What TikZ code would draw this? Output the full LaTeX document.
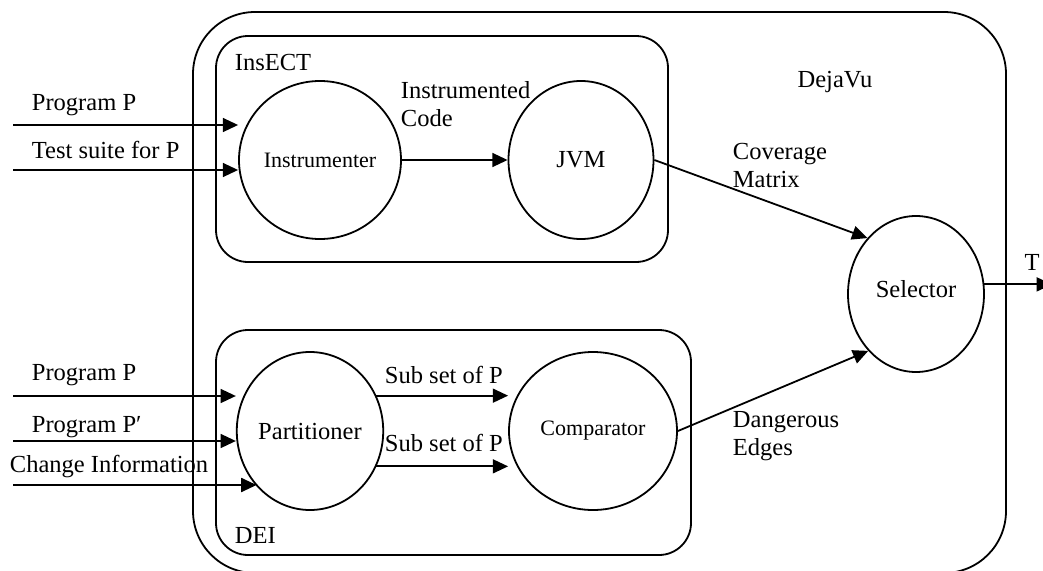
\documentclass[tikz,border=0pt]{standalone}
\usepackage{fontspec}
\setmainfont{Liberation Serif}
\usetikzlibrary{arrows.meta,shapes.geometric}
\begin{document}
\begin{tikzpicture}[x=0.75pt,y=-0.75pt,
  line width=1.35pt,
  bubble/.style={draw,ellipse,inner sep=0pt,font=\fontsize{18.4}{21}\selectfont},
  smallbubble/.style={bubble,font=\fontsize{16.5}{19}\selectfont},
  group/.style={draw,rounded corners=24pt,inner sep=0pt},
  lbl/.style={inner sep=0pt,anchor=west,font=\fontsize{18.4}{21}\selectfont,align=left},
  flow/.style={-{Triangle[length=11.5pt,width=10.5pt]}}]
\useasboundingbox (0,0) rectangle (1043,571);

% enclosing system and its two subsystems
\node[group,rounded corners=46.5pt,minimum width=609.75pt,minimum height=420.75pt] (dejavu) at (599.5,292.5) {};
\node[group,minimum width=339pt,minimum height=169.5pt] (insect) at (442,149) {};
\node[group,minimum width=356.25pt,minimum height=168.75pt] (dei) at (453.5,442.5) {};

\node[lbl] (insectlbl) at (234,62) {InsECT};
\node[lbl] (deilbl) at (234,535) {DEI};
\node[lbl,anchor=center] (dejavulbl) at (835,82) {DejaVu};

% processes
\node[smallbubble,minimum width=121.5pt,minimum height=118.5pt] (instr) at (320,160) {Instrumenter};
\node[bubble,minimum width=108.75pt,minimum height=118.5pt] (jvm) at (581,160) {JVM};
\node[bubble,minimum width=102pt,minimum height=117pt] (sel) at (916,294) {\raisebox{7.5pt}{Selector}};
\node[bubble,minimum width=106.5pt,minimum height=118.5pt] (part) at (310,431) {Partitioner};
\node[smallbubble,minimum width=126pt,minimum height=118.5pt] (comp) at (593,431) {\raisebox{4pt}{Comparator}};

% external inputs and output
\coordinate (inP1) at (13,125);
\coordinate (inT) at (13,170);
\coordinate (inP2) at (13,396);
\coordinate (inPp) at (13,441);
\coordinate (inCI) at (13,485);
\coordinate (outT) at (1052,0);

\draw[flow] (inP1) -- (inP1 -| instr.west);
\draw[flow] (inT) -- (inT -| instr.west);
\draw[flow] (inP2) -- (inP2 -| part.west);
\draw[flow] (inPp) -- (inPp -| part.west);
\draw[flow] (inCI) -- (inCI -| part.-134);

\node[lbl] (lP1) at (31,105) {Program P};
\node[lbl] (lT) at (31,150) {Test suite for P};
\node[lbl] (lP2) at (31,375) {Program P};
\node[lbl] (lPp) at (31,427) {Program P′};
\node[lbl] (lCI) at (9,467) {Change Information};

% internal flows
\draw[flow] (instr.east) -- (jvm.west);
\draw[flow] (part.28) -- (part.28 -| comp.west);
\draw[flow] (part.-28) -- (part.-28 -| comp.west);
\draw[flow] (jvm.east) -- (sel.131.6);
\draw[flow] (comp.east) -- (sel.-130);
\draw[flow] (sel.8) -- (sel.8 -| outT);

\node[lbl] (lIC) at (400,104) {Instrumented\\Code};
\node[lbl] (lSub1) at (384,375) {Sub set of P};
\node[lbl] (lSub2) at (384,443) {Sub set of P};
\node[lbl] (lCM) at (732,165.5) {Coverage\\Matrix};
\node[lbl] (lDE) at (732,436.5) {Dangerous\\Edges};
\node[lbl,anchor=center] (lT2) at (1032,262) {T};
\end{tikzpicture}
\end{document}
